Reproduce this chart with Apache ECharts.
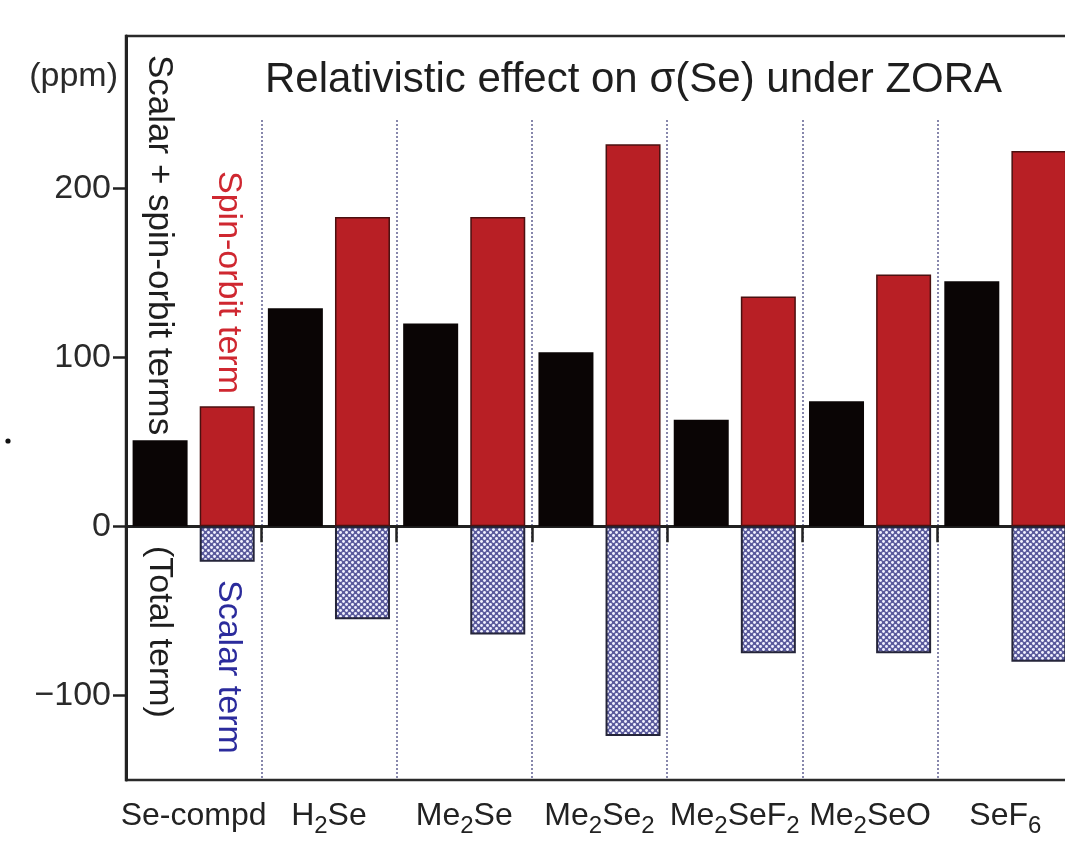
<!DOCTYPE html>
<html>
<head>
<meta charset="utf-8">
<script src="https://cdn.jsdelivr.net/npm/echarts@6/dist/echarts.min.js"></script>
<style>
html,body{margin:0;padding:0;background:#fff;}
#chart{width:1065px;height:864px;}
</style>
</head>
<body>
<div id="chart"></div>
<script>
// ---- data ----
var categories = ['Se-compd', 'H2Se', 'Me2Se', 'Me2Se2', 'Me2SeF2', 'Me2SeO', 'SeF6'];
var totalTerm = [51, 129, 120, 103, 63, 74, 145];          // scalar + spin-orbit (black)
var spinOrbitTerm = [71, 183, 183, 226, 136, 149, 222];    // red
var scalarTerm = [-21, -55, -64, -124, -75, -75, -80];     // hatched blue
var yTickValues = [-100, 0, 100, 200];
var titleText = 'Relativistic effect on \u03c3(Se) under ZORA';

// hatched pattern for scalar term
function makePattern() {
  var c = document.createElement('canvas');
  c.width = 6; c.height = 6;
  var g = c.getContext('2d');
  g.fillStyle = '#5a5a9c';
  g.fillRect(0, 0, 6, 6);
  g.fillStyle = '#f2f2ff';
  [[1.5, 1.5], [4.5, 4.5]].forEach(function (p) {
    g.beginPath(); g.arc(p[0], p[1], 1.45, 0, Math.PI * 2); g.fill();
  });
  return c;
}

var chart = echarts.init(document.getElementById('chart'), null, {renderer: 'canvas'});
var FONT = "'Liberation Sans', Arial, sans-serif";

function catLabel(name) {
  return name.replace(/([A-Za-z\-]+)/g, '{n|$1}').replace(/(\d)/g, '{s|$1}');
}

var option = {
  backgroundColor: '#ffffff',
  animation: false,
  title: {
    text: titleText,
    left: 260, top: 54,
    textStyle: {fontFamily: FONT, fontSize: 42, fontWeight: 'normal', color: '#1e1e1e'}
  },
  grid: [
    {left: 126, top: 36, width: 947, bottom: 84, show: true, borderColor: '#2a2a2a', borderWidth: 2.5,
     containLabel: false, outerBoundsMode: 'none'},
    {left: 126, top: 120, width: 947, bottom: 84, show: false, containLabel: false, outerBoundsMode: 'none'}
  ],
  xAxis: [
    {
      type: 'category', gridIndex: 0, data: categories,
      axisLine: {lineStyle: {color: '#222', width: 3}},
      axisTick: {show: true, interval: 0, length: 16, lineStyle: {color: '#222', width: 2.5}},
      axisLabel: {
        interval: 0, margin: 14, fontFamily: FONT, fontSize: 32, color: '#222',
        formatter: catLabel,
        rich: {
          n: {fontFamily: FONT, fontSize: 32, color: '#222', lineHeight: 44},
          s: {fontFamily: FONT, fontSize: 24, color: '#222', padding: [20, 0, 0, 0]}
        }
      },
      splitLine: {show: false}
    },
    {
      type: 'category', gridIndex: 1, data: categories,
      axisLine: {show: false}, axisTick: {show: false}, axisLabel: {show: false},
      splitLine: {show: true, interval: 0, lineStyle: {color: '#6a6a98', width: 1.6, type: [2, 2]}}
    }
  ],
  yAxis: [
    {
      type: 'value', gridIndex: 0, min: -150, max: 290, interval: 50,
      axisLine: {show: true, lineStyle: {color: '#222', width: 3}},
      axisTick: {show: true, length: 13, lineStyle: {color: '#222', width: 2.5}, customValues: yTickValues},
      axisLabel: {
        margin: 15, fontFamily: FONT, fontSize: 34, color: '#2a2a2a',
        customValues: yTickValues,
        formatter: function (v) { return String(v).replace('-', '\u2212'); }
      },
      splitLine: {show: false}
    },
    {type: 'value', gridIndex: 1, show: false, min: -150, max: 290}
  ],
  series: [
    {
      name: 'Scalar + spin-orbit terms', type: 'bar', xAxisIndex: 0, yAxisIndex: 0,
      data: totalTerm, barWidth: 55, barGap: '22%',
      itemStyle: {color: '#0a0505'}
    },
    {
      name: 'Spin-orbit term', type: 'bar', xAxisIndex: 0, yAxisIndex: 0, stack: 'rel',
      data: spinOrbitTerm, barWidth: 55,
      itemStyle: {color: '#b81f25', borderColor: '#4a1010', borderWidth: 1.5}
    },
    {
      name: 'Scalar term', type: 'bar', xAxisIndex: 0, yAxisIndex: 0, stack: 'rel',
      data: scalarTerm, barWidth: 55,
      itemStyle: {color: {image: makePattern(), repeat: 'repeat'}, borderColor: '#25253a', borderWidth: 2}
    }
  ],
  graphic: [
    {type: 'text', x: 118, y: 77, style: {text: '(ppm)', fontFamily: FONT, fontSize: 34, fill: '#2a2a2a', textAlign: 'right', textVerticalAlign: 'middle'}},
    {type: 'text', x: 159, y: 55, rotation: -Math.PI / 2, style: {text: 'Scalar + spin-orbit terms', fontFamily: FONT, fontSize: 35, fill: '#1e1e1e', textAlign: 'left', textVerticalAlign: 'middle'}},
    {type: 'text', x: 159, y: 546, rotation: -Math.PI / 2, style: {text: '(Total term)', fontFamily: FONT, fontSize: 34, fill: '#1e1e1e', textAlign: 'left', textVerticalAlign: 'middle'}},
    {type: 'text', x: 228, y: 171, rotation: -Math.PI / 2, style: {text: 'Spin-orbit term', fontFamily: FONT, fontSize: 34, fill: '#cf2730', textAlign: 'left', textVerticalAlign: 'middle'}},
    {type: 'text', x: 228, y: 580, rotation: -Math.PI / 2, style: {text: 'Scalar term', fontFamily: FONT, fontSize: 34, fill: '#2b2b9c', textAlign: 'left', textVerticalAlign: 'middle'}},
    {type: 'circle', shape: {cx: 8, cy: 441, r: 2.6}, style: {fill: '#111'}}
  ]
};
chart.setOption(option);
</script>
</body>
</html>
